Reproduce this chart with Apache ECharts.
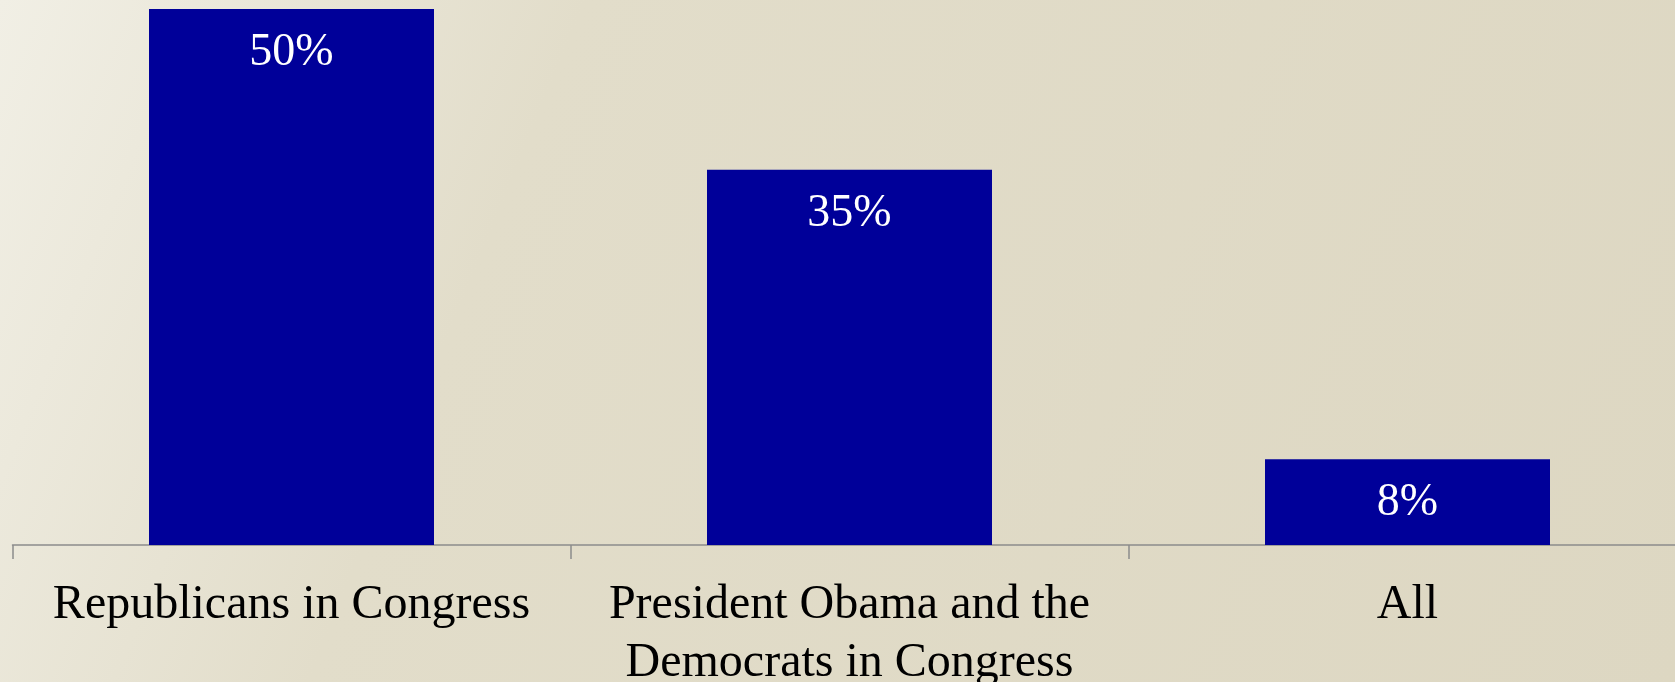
<!DOCTYPE html>
<html>
<head>
<meta charset="utf-8">
<script src="https://cdn.jsdelivr.net/npm/echarts@6/dist/echarts.min.js"></script>
<style>
html,body{margin:0;padding:0;}
#chart{width:1675px;height:682px;}
</style>
</head>
<body>
<div id="chart"></div>
<script>
const categories = ["Republicans in Congress", "President Obama and the\nDemocrats in Congress", "All"];
const values = [50, 35, 8];

const chart = echarts.init(document.getElementById('chart'));
chart.setOption({
  backgroundColor: {
    type: 'linear', x: 0, y: 0, x2: 1, y2: 1,
    colorStops: [
      {offset: 0, color: '#f1efe5'},
      {offset: 0.3, color: '#e2ddca'},
      {offset: 1, color: '#ddd7c2'}
    ]
  },
  animation: false,
  grid: {left: 12.5, right: -11.5, top: 9, bottom: 137, containLabel: false, outerBoundsMode: 'none'},
  xAxis: {
    type: 'category',
    data: categories,
    axisLine: {show: true, lineStyle: {color: '#8c8c8c', width: 1.5}},
    axisTick: {show: true, length: 14, lineStyle: {color: '#8c8c8c', width: 1.5}},
    axisLabel: {
      color: '#000', fontFamily: 'Liberation Serif', fontSize: 48,
      lineHeight: 58, margin: 31, interval: 0
    }
  },
  yAxis: {
    type: 'value', min: 0, max: 50,
    show: false, splitLine: {show: false}
  },
  series: [{
    type: 'bar',
    data: values,
    barWidth: 285,
    itemStyle: {color: '#000099'},
    label: {
      show: true, position: 'insideTop', distance: 21,
      formatter: '{c}%', color: '#fff',
      fontFamily: 'Liberation Serif', fontSize: 46
    }
  }]
});
</script>
</body>
</html>
